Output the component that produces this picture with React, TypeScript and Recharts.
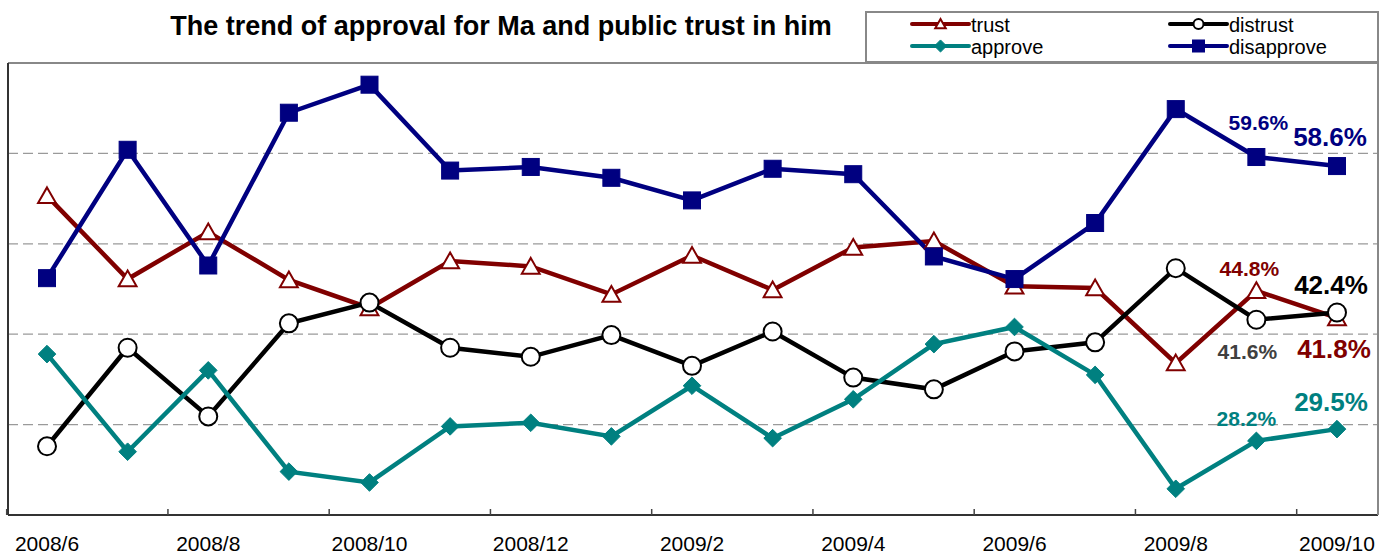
import React from 'react';
import { LineChart, Line, XAxis, YAxis, CartesianGrid, LabelList } from 'recharts';

const months = [
  '2008/6', '2008/7', '2008/8', '2008/9', '2008/10', '2008/11', '2008/12',
  '2009/1', '2009/2', '2009/3', '2009/4', '2009/5', '2009/6', '2009/7',
  '2009/8', '2009/9', '2009/10',
];
const tickLabels = ['2008/6', '2008/8', '2008/10', '2008/12', '2009/2', '2009/4', '2009/6', '2009/8', '2009/10'];

const trust = [55.3, 46.1, 51.3, 46.0, 42.9, 48.1, 47.5, 44.4, 48.7, 44.9, 49.6, 50.3, 45.3, 45.1, 36.8, 44.8, 41.8];
const distrust = [27.6, 38.5, 30.9, 41.2, 43.5, 38.5, 37.5, 39.9, 36.5, 40.3, 35.2, 33.9, 38.1, 39.1, 47.3, 41.6, 42.4];
const approve = [37.8, 27.0, 36.0, 24.8, 23.6, 29.8, 30.2, 28.7, 34.3, 28.5, 32.8, 38.9, 40.8, 35.5, 22.9, 28.2, 29.5];
const disapprove = [46.2, 60.4, 47.6, 64.5, 67.6, 58.1, 58.5, 57.3, 54.8, 58.3, 57.7, 48.6, 46.1, 52.3, 64.9, 59.6, 58.6];

const yTicks = [20, 30, 40, 50, 60, 70];

const data = months.map((m, i) => ({
  month: m,
  trust: trust[i],
  distrust: distrust[i],
  approve: approve[i],
  disapprove: disapprove[i],
}));

const W = 1391;
const H = 556;
const MARGIN = { top: 62, right: 12, bottom: 0, left: 7 };
const PAD_L = 39;
const PAD_R = 41;
const PLOT_W = W - MARGIN.left - MARGIN.right - 2;
const STEP = (PLOT_W - PAD_L - PAD_R) / (months.length - 1);
const HALF_STEP = STEP / 2;

const FONT = '"Liberation Sans", Arial, Helvetica, sans-serif';

const C_TRUST = '#800000';
const C_DISTRUST = '#000000';
const C_APPROVE = '#008080';
const C_DISAPPROVE = '#000080';

type Shape = 'triangle' | 'circle' | 'diamond' | 'square';

function Marker({ shape, cx, cy, s, color }: { shape: Shape; cx: number; cy: number; s: number; color: string }) {
  if (shape === 'triangle') {
    const pts = `${cx},${cy - s} ${cx + s * 1.05},${cy + s * 0.85} ${cx - s * 1.05},${cy + s * 0.85}`;
    return <polygon points={pts} fill="#fff" stroke={color} strokeWidth={2} />;
  }
  if (shape === 'circle') {
    return <circle cx={cx} cy={cy} r={s} fill="#fff" stroke={color} strokeWidth={2} />;
  }
  if (shape === 'diamond') {
    const d = s * 1.1;
    const pts = `${cx},${cy - d} ${cx + d},${cy} ${cx},${cy + d} ${cx - d},${cy}`;
    return <polygon points={pts} fill={color} stroke={color} strokeWidth={1} />;
  }
  return <rect x={cx - s} y={cy - s} width={s * 2} height={s * 2} fill={color} stroke={color} strokeWidth={1} />;
}

const makeDot = (shape: Shape, color: string, s: number) => (p: any) => {
  if (p.cx == null || p.cy == null) return <g key={`dot-${shape}-${p.index}`} />;
  return (
    <g key={`dot-${shape}-${p.index}`}>
      <Marker shape={shape} cx={p.cx} cy={p.cy} s={s} color={color} />
    </g>
  );
};

type LabelCfg = { [idx: number]: { dx: number; dy: number; size: number; color: string } };

const trustLabels: LabelCfg = {
  15: { dx: -7, dy: -15, size: 21, color: C_TRUST },
  16: { dx: -3, dy: 40, size: 26, color: C_TRUST },
};
const distrustLabels: LabelCfg = {
  15: { dx: -9, dy: 39, size: 21, color: '#404040' },
  16: { dx: -6, dy: -19, size: 26, color: '#000000' },
};
const approveLabels: LabelCfg = {
  15: { dx: -10, dy: -15, size: 21, color: C_APPROVE },
  16: { dx: -6, dy: -18, size: 26, color: C_APPROVE },
};
const disapproveLabels: LabelCfg = {
  15: { dx: 2, dy: -27, size: 21, color: C_DISAPPROVE },
  16: { dx: -7, dy: -20, size: 26, color: C_DISAPPROVE },
};

const makeLabel = (cfg: LabelCfg) => (props: any) => {
  const { index, value } = props;
  const c = cfg[index];
  if (!c || value == null) return null;
  const x = props.x ?? props.viewBox?.x;
  const y = props.y ?? props.viewBox?.y;
  if (x == null || y == null) return null;
  return (
    <text
      key={`lbl-${index}`}
      x={x + c.dx}
      y={y + c.dy}
      textAnchor="middle"
      fontFamily={FONT}
      fontWeight="bold"
      fontSize={c.size}
      fill={c.color}
    >
      {Number(value).toFixed(1)}%
    </text>
  );
};

const AxisTick = (props: any) => {
  const { x, y, payload } = props;
  if (!tickLabels.includes(payload.value)) return <g />;
  const tx = x - HALF_STEP;
  return (
    <g>
      <line x1={tx} x2={tx} y1={y} y2={y - 6} stroke="#444" strokeWidth={1.5} />
      <text x={x} y={y + 36} textAnchor="middle" fontFamily={FONT} fontSize={21} fill="#000">
        {payload.value}
      </text>
    </g>
  );
};

const EmptyTick = () => <g />;

const legendItems: { name: string; color: string; shape: Shape; col: number; row: number }[] = [
  { name: 'trust', color: C_TRUST, shape: 'triangle', col: 0, row: 0 },
  { name: 'distrust', color: C_DISTRUST, shape: 'circle', col: 1, row: 0 },
  { name: 'approve', color: C_APPROVE, shape: 'diamond', col: 0, row: 1 },
  { name: 'disapprove', color: C_DISAPPROVE, shape: 'square', col: 1, row: 1 },
];

function Legend() {
  const colX = [47, 305];
  const rowY = [13, 35];
  const rowBase = [20.5, 43];
  return (
    <svg width={514} height={52} style={{ position: 'absolute', left: 865, top: 11 }}>
      <rect x={1} y={1} width={512} height={50} fill="#fff" stroke="#888" strokeWidth={2} />
      {legendItems.map((it) => {
        const x0 = colX[it.col];
        const y0 = rowY[it.row];
        const s = it.shape === 'triangle' ? 5 : it.shape === 'circle' ? 5 : it.shape === 'diamond' ? 5.5 : 6;
        return (
          <g key={it.name}>
            <line x1={x0} x2={x0 + 57} y1={y0} y2={y0} stroke={it.color} strokeWidth={4} strokeLinecap="round" />
            <Marker shape={it.shape} cx={x0 + 28.5} cy={y0} s={s} color={it.color} />
            <text x={x0 + 59} y={rowBase[it.row]} fontFamily={FONT} fontSize={20} fill="#000">
              {it.name}
            </text>
          </g>
        );
      })}
    </svg>
  );
}

export default function App() {
  return (
    <div style={{ position: 'absolute', left: 0, top: 0, width: W, height: H, background: '#fff', fontFamily: FONT }}>
      <LineChart width={W} height={H} data={data} margin={MARGIN}>
        <CartesianGrid vertical={false} stroke="#9a9a9a" strokeDasharray="10 5" strokeWidth={1.2} />
        <XAxis
          dataKey="month"
          interval={0}
          padding={{ left: PAD_L, right: PAD_R }}
          height={41}
          tickSize={0}
          tickMargin={0}
          tickLine={false}
          axisLine={{ stroke: '#333', strokeWidth: 2 }}
          tick={<AxisTick />}
        />
        <XAxis
          xAxisId="top"
          dataKey="month"
          orientation="top"
          height={1}
          interval={0}
          tickSize={0}
          tickLine={false}
          axisLine={{ stroke: '#888', strokeWidth: 2 }}
          tick={<EmptyTick />}
        />
        <YAxis
          domain={[20, 70]}
          ticks={yTicks}
          interval={0}
          width={1}
          tickSize={0}
          tickLine={false}
          axisLine={{ stroke: '#333', strokeWidth: 2 }}
          tick={<EmptyTick />}
        />
        <YAxis
          yAxisId="right"
          orientation="right"
          domain={[20, 70]}
          ticks={yTicks}
          width={1}
          tickSize={0}
          tickLine={false}
          axisLine={{ stroke: '#888', strokeWidth: 2 }}
          tick={<EmptyTick />}
        />
        <Line
          dataKey="trust"
          type="linear"
          stroke={C_TRUST}
          strokeWidth={4.5}
          dot={makeDot('triangle', C_TRUST, 8.5)}
          activeDot={false}
          isAnimationActive={false}
        >
          <LabelList dataKey="trust" content={makeLabel(trustLabels)} />
        </Line>
        <Line
          dataKey="distrust"
          type="linear"
          stroke={C_DISTRUST}
          strokeWidth={4.5}
          dot={makeDot('circle', C_DISTRUST, 9)}
          activeDot={false}
          isAnimationActive={false}
        >
          <LabelList dataKey="distrust" content={makeLabel(distrustLabels)} />
        </Line>
        <Line
          dataKey="approve"
          type="linear"
          stroke={C_APPROVE}
          strokeWidth={4.5}
          dot={makeDot('diamond', C_APPROVE, 8)}
          activeDot={false}
          isAnimationActive={false}
        >
          <LabelList dataKey="approve" content={makeLabel(approveLabels)} />
        </Line>
        <Line
          dataKey="disapprove"
          type="linear"
          stroke={C_DISAPPROVE}
          strokeWidth={4.5}
          dot={makeDot('square', C_DISAPPROVE, 8.5)}
          activeDot={false}
          isAnimationActive={false}
        >
          <LabelList dataKey="disapprove" content={makeLabel(disapproveLabels)} />
        </Line>
      </LineChart>
      <svg width={W} height={60} style={{ position: 'absolute', left: 0, top: 0, pointerEvents: 'none' }}>
        <text x={501} y={35} textAnchor="middle" fontFamily={FONT} fontWeight="bold" fontSize={27} fill="#000">
          The trend of approval for Ma and public trust in him
        </text>
      </svg>
      <Legend />
    </div>
  );
}
